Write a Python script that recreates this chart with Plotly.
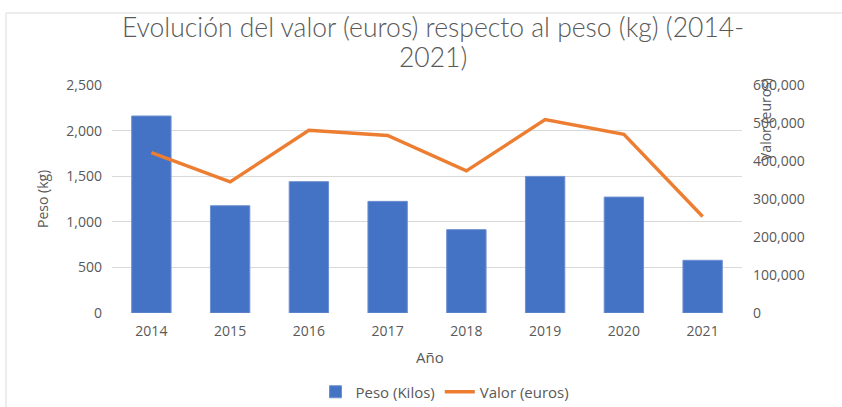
import plotly.graph_objects as go

years = ["2014", "2015", "2016", "2017", "2018", "2019", "2020", "2021"]
peso_kilos = [2160, 1176, 1440, 1224, 914, 1498, 1271, 578]
valor_euros = [422000, 345000, 481000, 467000, 374000, 509000, 470000, 254000]

title_line1 = "Evolución del valor (euros) respecto al peso (kg) (2014-"
title_line2 = "2021)"
grey = "#595959"
W, H = 842, 407
L, R, T, B = 112, 100, 85, 94

fig = go.Figure()
fig.add_trace(go.Bar(x=years, y=peso_kilos, name="Peso (Kilos)",
                     marker=dict(color="#4472c4", line=dict(color="#6f8fd0", width=1)),
                     yaxis="y"))
fig.add_trace(go.Scatter(x=years, y=valor_euros, name="Valor (euros)", mode="lines",
                         line=dict(color="#ed7d31", width=3.4), yaxis="y2"))

pw = W - L - R
ph = H - T - B
def px_x(x):
    return (x - L) / pw
def px_y(y):
    return (H - B - y) / ph

title_font = dict(family="Lato", size=26.5, color=grey, weight=300)

fig.update_layout(
    width=W, height=H,
    margin=dict(l=L, r=R, t=T, b=B),
    paper_bgcolor="white", plot_bgcolor="white",
    font=dict(family="Open Sans", size=14, color=grey),
    title=dict(text=title_line1, x=433 / W, xanchor="center", y=1 - 28 / H, yanchor="middle",
               font=title_font),
    bargap=0.5,
    showlegend=True,
    legend=dict(orientation="h", xref="container", yref="container",
                x=445 / W, xanchor="center", y=1 - 392 / H, yanchor="middle",
                font=dict(size=15, color=grey), itemwidth=30, tracegroupgap=0),
    xaxis=dict(type="category", showgrid=False, showline=False, ticks="", ticklabelstandoff=8,
               automargin=False, tickfont=dict(size=14, color=grey)),
    yaxis=dict(range=[0, 2500], dtick=500, tickformat=",", showgrid=True, gridcolor="#d9d9d9",
               gridwidth=1.3, zeroline=False, showline=False, ticks="", ticklabelstandoff=9,
               automargin=False, tickfont=dict(size=14, color=grey)),
    yaxis2=dict(range=[0, 600000], dtick=100000, tickformat=",", overlaying="y", side="right",
                showgrid=False, zeroline=False, showline=False, ticks="", ticklabelstandoff=10,
                automargin=False, tickfont=dict(size=14, color=grey)),
    annotations=[
        dict(text=title_line2, xref="paper", yref="paper", x=px_x(433), y=px_y(57),
             showarrow=False, xanchor="center", yanchor="middle", font=title_font),
        dict(text="Peso (kg)", xref="paper", yref="paper", x=px_x(42), y=px_y(199),
             textangle=-90, showarrow=False, xanchor="center", yanchor="middle",
             font=dict(size=14, color=grey)),
        dict(text="Valor (euros)", xref="paper", yref="paper", x=px_x(765), y=px_y(120),
             textangle=-90, showarrow=False, xanchor="center", yanchor="middle",
             font=dict(size=14, color=grey)),
        dict(text="Año", xref="paper", yref="paper", x=px_x(430), y=px_y(357),
             showarrow=False, xanchor="center", yanchor="middle",
             font=dict(size=15, color=grey)),
    ],
    shapes=[
        dict(type="rect", xref="paper", yref="paper", x0=px_x(6), x1=px_x(860),
             y0=px_y(420), y1=px_y(13), line=dict(color="#d9d9d9", width=1), layer="below"),
    ],
)

fig.write_html("out.html", config={"displayModeBar": False},
               post_script="document.body.style.margin='0';document.body.style.overflow='hidden';")
